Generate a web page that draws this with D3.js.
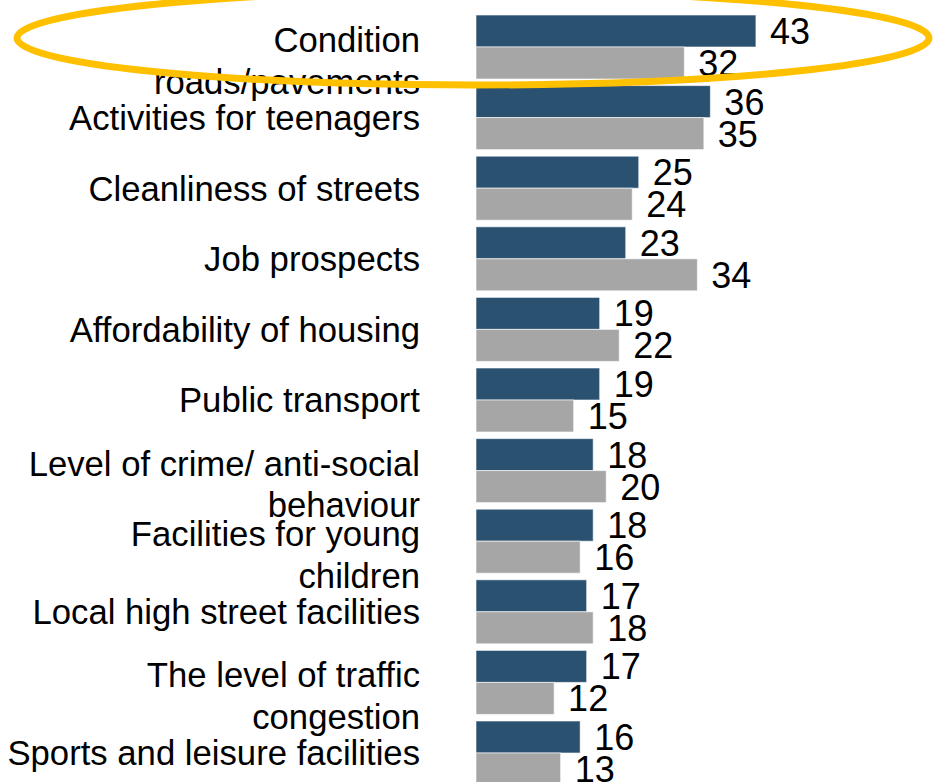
<!DOCTYPE html>
<html>

<head>
    <meta charset="utf-8">
    <title>Local area priorities</title>
    <script src="https://d3js.org/d3.v7.min.js"></script>
</head>
<style>
    body {
        margin: 0;
        background-color: #ffffff;
    }

    svg {
        display: block;
    }

    /* all the text on the chart */
    text {
        font-family: "Liberation Sans", Arial, sans-serif;
        fill: #000;
    }

    .cat-label {
        font-size: 34.7px;
        text-anchor: end;
    }

    .value-label {
        font-size: 36px;
        text-anchor: start;
    }
</style>

<body>
    <svg width="933" height="782"></svg>

    <script>
        // labels, "\n" marks where the original wraps
        const categories = [
            "Condition\nroads/pavements",
            "Activities for teenagers",
            "Cleanliness of streets",
            "Job prospects",
            "Affordability of housing",
            "Public transport",
            "Level of crime/ anti-social\nbehaviour",
            "Facilities for young\nchildren",
            "Local high street facilities",
            "The level of traffic\ncongestion",
            "Sports and leisure facilities"
        ];

        const series = ["Series 1", "Series 2"];

        const darkValues = [43, 36, 25, 23, 19, 19, 18, 18, 17, 17, 16];
        const greyValues = [32, 35, 24, 34, 22, 15, 20, 16, 18, 12, 13];

        const colors = { "Series 1": "#2b5171", "Series 2": "#a6a6a6" };

        const data = categories.map((c, i) => ({
            category: c,
            values: [
                { key: series[0], value: darkValues[i] },
                { key: series[1], value: greyValues[i] }
            ]
        }));

        const svg = d3.select("svg");

        const yGroup = d3.scaleBand()
            .domain(categories)
            .range([15, 785])
            .paddingInner(0.0935)
            .paddingOuter(0);

        const ySeries = d3.scaleBand()
            .domain(series)
            .range([0, yGroup.bandwidth()]);

        const xScale = d3.scaleLinear()
            .domain([0, 50])
            .range([476, 801.5]);

        const groups = svg.append("g")
            .selectAll("g")
            .data(data)
            .enter()
            .append("g")
            .attr("transform", d => `translate(0,${yGroup(d.category)})`);

        groups.selectAll("rect")
            .data(d => d.values)
            .enter()
            .append("rect")
            .attr("x", xScale(0))
            .attr("y", d => ySeries(d.key))
            .attr("width", d => xScale(d.value) - xScale(0))
            .attr("height", ySeries.bandwidth())
            .attr("fill", d => colors[d.key])
            .attr("stroke", "#ffffff")
            .attr("stroke-opacity", 0.6)
            .attr("stroke-width", 1);

        // numbers at the end of each bar
        groups.selectAll(".value-label")
            .data(d => d.values)
            .enter()
            .append("text")
            .attr("class", "value-label")
            .attr("x", d => xScale(d.value) + 14)
            .attr("y", d => ySeries(d.key) + ySeries.bandwidth() / 2 + 13)
            .text(d => d.value);

        // category labels on the left
        const lineGap = 41.6;
        groups.append("text")
            .attr("class", "cat-label")
            .attr("x", 420)
            .each(function (d) {
                const lines = d.category.split("\n");
                const mid = yGroup.bandwidth() / 2;
                const first = lines.length > 1 ? mid + 5 : mid + 12.5;
                lines.forEach((line, i) => {
                    d3.select(this).append("tspan")
                        .attr("x", 420)
                        .attr("y", first + i * lineGap)
                        .text(line);
                });
            });

        // highlight ring round the top item
        const firstCat = categories[0];
        svg.append("ellipse")
            .attr("cx", 473)
            .attr("cy", yGroup(firstCat) + yGroup.bandwidth() / 2 - 9)
            .attr("rx", 456)
            .attr("ry", 47)
            .attr("fill", "none")
            .attr("stroke", "#ffc000")
            .attr("stroke-width", 7);
    </script>
</body>

</html>
